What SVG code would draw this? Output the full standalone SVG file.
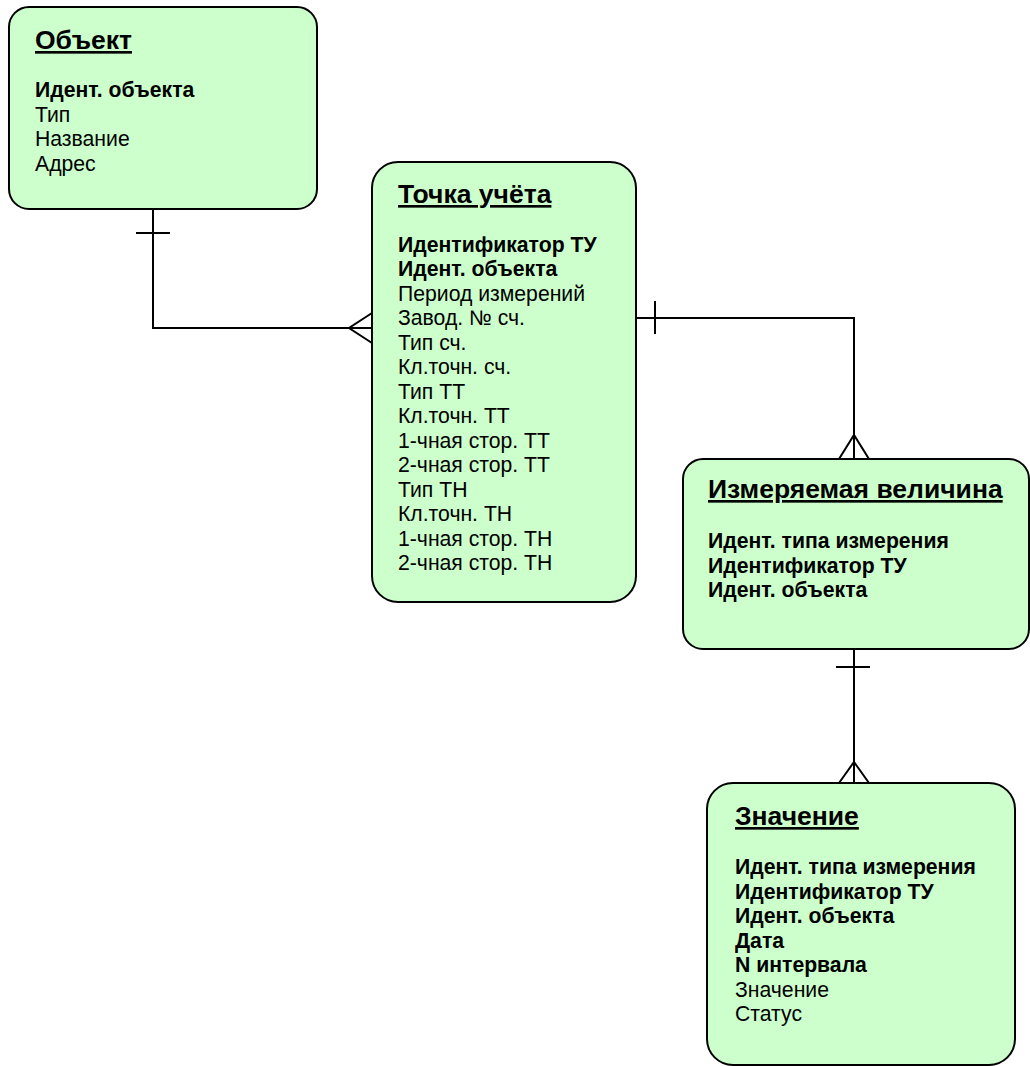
<svg xmlns="http://www.w3.org/2000/svg" width="1030" height="1066" viewBox="0 0 1030 1066">
<style>
.box{fill:#CCFFCC;stroke:#000;stroke-width:2}
.t{font-family:"Liberation Sans",Arial,sans-serif;font-size:26.5px;font-weight:bold;text-decoration:underline;fill:#000}
.b{font-family:"Liberation Sans",Arial,sans-serif;font-size:21.2px;fill:#000}
.k{font-weight:bold}
.c{fill:none;stroke:#000;stroke-width:2}
</style>
<rect width="1030" height="1066" fill="#fff"/>
<g id="obj">
<rect class="box" x="9" y="7" width="308" height="202" rx="20" ry="20"/>
<text class="t" x="35" y="49">Объект</text>
<text class="b" x="35"><tspan class="k" x="35" y="97">Идент. объекта</tspan><tspan x="35" y="121.5">Тип</tspan><tspan x="35" y="146">Название</tspan><tspan x="35" y="170.5">Адрес</tspan></text>
</g>
<g id="tu">
<rect class="box" x="372" y="162" width="264" height="440" rx="26" ry="26"/>
<text class="t" x="398" y="203">Точка учёта</text>
<text class="b"><tspan class="k" x="398" y="251.5">Идентификатор ТУ</tspan><tspan class="k" x="398" y="276">Идент. объекта</tspan><tspan x="398" y="300.5">Период измерений</tspan><tspan x="398" y="325">Завод. № сч.</tspan><tspan x="398" y="349.5">Тип сч.</tspan><tspan x="398" y="374">Кл.точн. сч.</tspan><tspan x="398" y="398.5">Тип ТТ</tspan><tspan x="398" y="423">Кл.точн. ТТ</tspan><tspan x="398" y="447.5">1-чная стор. ТТ</tspan><tspan x="398" y="472">2-чная стор. ТТ</tspan><tspan x="398" y="496.5">Тип ТН</tspan><tspan x="398" y="521">Кл.точн. ТН</tspan><tspan x="398" y="545.5">1-чная стор. ТН</tspan><tspan x="398" y="570">2-чная стор. ТН</tspan></text>
</g>
<g id="mv">
<rect class="box" x="683" y="459" width="346" height="190" rx="20" ry="20"/>
<text class="t" x="708" y="498">Измеряемая величина</text>
<text class="b k"><tspan x="708" y="548">Идент. типа измерения</tspan><tspan x="708" y="572.5">Идентификатор ТУ</tspan><tspan x="708" y="597">Идент. объекта</tspan></text>
</g>
<g id="val">
<rect class="box" x="707" y="783" width="308" height="282" rx="26" ry="26"/>
<text class="t" x="735" y="825">Значение</text>
<text class="b"><tspan class="k" x="735" y="874">Идент. типа измерения</tspan><tspan class="k" x="735" y="898.5">Идентификатор ТУ</tspan><tspan class="k" x="735" y="923">Идент. объекта</tspan><tspan class="k" x="735" y="947.5">Дата</tspan><tspan class="k" x="735" y="972">N интервала</tspan><tspan x="735" y="996.5">Значение</tspan><tspan x="735" y="1021">Статус</tspan></text>
</g>
<g id="connectors">
<path class="c" d="M153,209 V328 H372"/>
<path class="c" d="M136,233 H170"/>
<path class="c" d="M372,313 L349,328 L372,343"/>
<path class="c" d="M636,318 H854 V459"/>
<path class="c" d="M655,301 V334"/>
<path class="c" d="M839,459 L854,435 L869,459"/>
<path class="c" d="M854,649 V783"/>
<path class="c" d="M836,667 H870"/>
<path class="c" d="M839,783 L854,762 L869,783"/>
</g>
</svg>
